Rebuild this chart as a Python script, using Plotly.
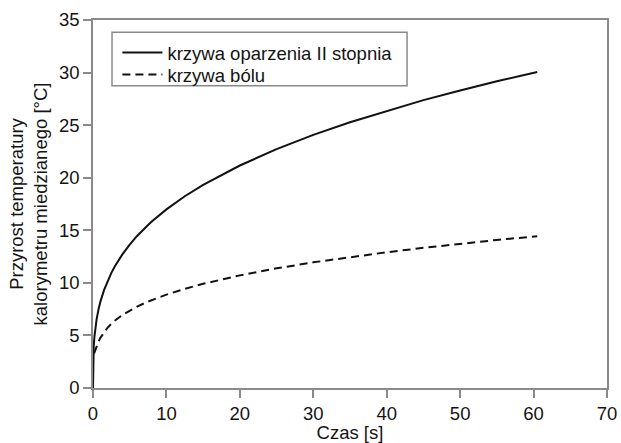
import plotly.graph_objects as go

# Czas ekspozycji [s] i przyrost temperatury kalorymetru [°C]
czas_oparzenie = [0, 0.05, 0.1, 0.2, 0.3, 0.5, 0.75, 1, 1.5, 2, 2.5, 3, 4, 5,
                  6, 7.5, 8, 10, 12.5, 15, 20, 25, 30, 35, 40, 45, 50, 55, 60.5]
oparzenie_II = [0, 3.17, 3.95, 4.92, 5.59, 6.58, 7.48, 8.19, 9.31, 10.20,
                10.95, 11.61, 12.71, 13.64, 14.46, 15.51, 15.83, 16.99, 18.24,
                19.32, 21.16, 22.72, 24.08, 25.27, 26.36, 27.38, 28.30, 29.17,
                30.05]

czas_bol = [0.15, 0.3, 0.5, 0.75, 1, 1.5, 2, 2.5, 3, 4, 5, 6, 7.5, 8, 10, 12.5,
            15, 20, 25, 30, 35, 40, 45, 50, 55, 60.5]
bol = [3.3, 3.6, 4.0, 4.41, 4.77, 5.32, 5.75, 6.11, 6.42, 6.94, 7.37, 7.74,
       8.22, 8.36, 8.88, 9.43, 9.91, 10.71, 11.38, 11.95, 12.46, 12.91, 13.33,
       13.72, 14.08, 14.44]

x_ticks = [0, 10, 20, 30, 40, 50, 60, 70]
y_ticks = [0, 5, 10, 15, 20, 25, 30, 35]

FONT = "Liberation Sans, Arial, sans-serif"
TXT = "#141414"
AX = "#8a8a8a"
FS = 18.5

fig = go.Figure()
fig.add_trace(go.Scatter(
    x=czas_oparzenie, y=oparzenie_II, mode="lines",
    name="krzywa oparzenia II stopnia", legend="legend",
    line=dict(color="#111111", width=2),
))
fig.add_trace(go.Scatter(
    x=czas_bol, y=bol, mode="lines",
    name="krzywa bólu", legend="legend2",
    line=dict(color="#111111", width=2, dash="8px,5px"),
))

axis_common = dict(
    showgrid=False, zeroline=False, showline=True, linecolor=AX, linewidth=1.5,
    mirror=True, ticks="outside", ticklen=8, tickwidth=1.5, tickcolor=AX,
    tickfont=dict(family=FONT, size=FS, color=TXT),
)

fig.update_xaxes(
    range=[0, 70], tickvals=x_ticks, ticktext=[str(v) for v in x_ticks],
    title=dict(text="Czas [s]", font=dict(family=FONT, size=FS, color=TXT), standoff=4),
    **axis_common,
)
fig.update_yaxes(
    range=[0, 35], tickvals=y_ticks, ticktext=[str(v) for v in y_ticks],
    title=dict(text="Przyrost temperatury<br>kalorymetru miedzianego [°C]",
               font=dict(family=FONT, size=FS, color=TXT), standoff=6),
    **axis_common,
)

legend_style = dict(
    xanchor="left", yanchor="top", bgcolor="rgba(0,0,0,0)", borderwidth=0,
    font=dict(family=FONT, size=FS, color=TXT), itemwidth=40,
)

fig.update_layout(
    width=621, height=443,
    margin=dict(l=93, r=14, t=20, b=55, autoexpand=False),
    paper_bgcolor="white", plot_bgcolor="white",
    font=dict(family=FONT, size=FS, color=TXT),
    showlegend=True,
    legend=dict(x=0.0475, y=0.962, **legend_style),
    legend2=dict(x=0.0475, y=0.902, **legend_style),
    # ramka legendy
    shapes=[dict(
        type="rect", xref="paper", yref="paper",
        x0=0.037, x1=0.611, y0=0.821, y1=0.967,
        line=dict(color=AX, width=1.5), fillcolor="white", layer="below",
    )],
)

fig.write_html("out.html")
